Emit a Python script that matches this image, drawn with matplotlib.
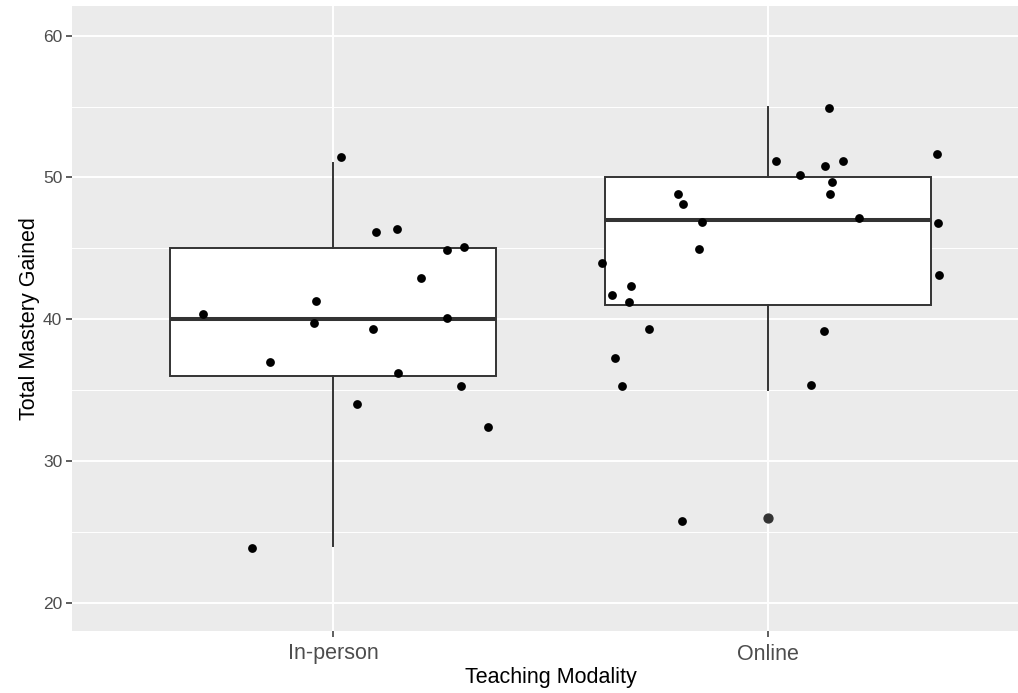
import matplotlib
matplotlib.use("Agg")
import matplotlib.pyplot as plt

plt.rcParams['font.family'] = ['Liberation Sans', 'DejaVu Sans']

categories = ["In-person", "Online"]

# box statistics: whisker low, Q1, median, Q3, whisker high
box_low = [24, 35]
box_q1 = [36, 41]
box_med = [40, 47]
box_q3 = [45, 50]
box_high = [51, 55]
outliers = [[], [26]]

# jittered points (x in category units, y values)
inperson_x = [0.702, 0.814, 0.855, 0.956, 0.960, 1.018, 1.056, 1.093, 1.098,
              1.146, 1.149, 1.202, 1.261, 1.261, 1.295, 1.300, 1.356]
inperson_y = [40.35, 23.84, 36.97, 39.70, 41.32, 51.45, 34.00, 39.29, 46.16,
              46.35, 36.17, 42.89, 44.87, 40.07, 35.27, 45.06, 32.40]

online_x = [1.618, 1.641, 1.648, 1.664, 1.680, 1.685, 1.727, 1.793, 1.802,
            1.805, 1.841, 1.848, 2.018, 2.074, 2.098, 2.129, 2.130, 2.141,
            2.142, 2.147, 2.173, 2.210, 2.388, 2.391, 2.394]
online_y = [44.00, 41.69, 37.25, 35.27, 41.22, 42.31, 39.29, 48.80, 25.77,
            48.14, 44.96, 46.87, 51.15, 50.18, 35.39, 39.20, 50.79, 54.88,
            48.84, 49.71, 51.15, 47.15, 51.69, 46.77, 43.13]

fig = plt.figure(figsize=(10.18, 6.93), dpi=100)
ax = fig.add_axes([72 / 1018, 62 / 693, 946 / 1018, 625 / 693])
ax.set_facecolor("#EBEBEB")

grey20 = "#333333"
stats = []
for i in range(len(categories)):
    stats.append(dict(whislo=box_low[i], q1=box_q1[i], med=box_med[i],
                      q3=box_q3[i], whishi=box_high[i], fliers=outliers[i]))
ax.bxp(stats, positions=[1, 2], widths=0.75, patch_artist=True, showcaps=False,
       boxprops=dict(facecolor="white", edgecolor=grey20, linewidth=1.4),
       whiskerprops=dict(color=grey20, linewidth=1.4),
       medianprops=dict(color=grey20, linewidth=2.9, solid_capstyle="butt"),
       flierprops=dict(marker="o", markerfacecolor=grey20, markeredgecolor=grey20,
                       markersize=6.4),
       zorder=3)

ax.scatter(inperson_x, inperson_y, s=40, color="black", linewidths=0, zorder=4)
ax.scatter(online_x, online_y, s=40, color="black", linewidths=0, zorder=4)

ax.set_xlim(0.4, 0.4 + 946 / 435)
ax.set_ylim(18.0, 62.1)
ax.set_xticks([1, 2])
ax.set_xticklabels(categories)
ax.set_yticks([20, 30, 40, 50, 60])
ax.set_yticks([25, 35, 45, 55], minor=True)

ax.grid(True, which="major", color="white", linewidth=1.4)
ax.grid(True, which="minor", axis="y", color="white", linewidth=0.7)
ax.set_axisbelow(True)
for s in ax.spines.values():
    s.set_visible(False)

ax.tick_params(axis="both", which="major", color=grey20, length=4, width=1.1,
               labelcolor="#4D4D4D")
ax.tick_params(axis="y", which="major", labelsize=12.5, pad=3)
ax.tick_params(axis="x", which="major", labelsize=15.5, pad=5)
ax.tick_params(axis="y", which="minor", length=0)

ax.set_xlabel("Teaching Modality", fontsize=15.5, color="black")
ax.set_ylabel("Total Mastery Gained", fontsize=15.5, color="black")
ax.xaxis.set_label_coords((550.5 - 72) / 946, -0.058)
ax.yaxis.set_label_coords(-0.034, 0.5)

fig.savefig("out.png", dpi=100)
